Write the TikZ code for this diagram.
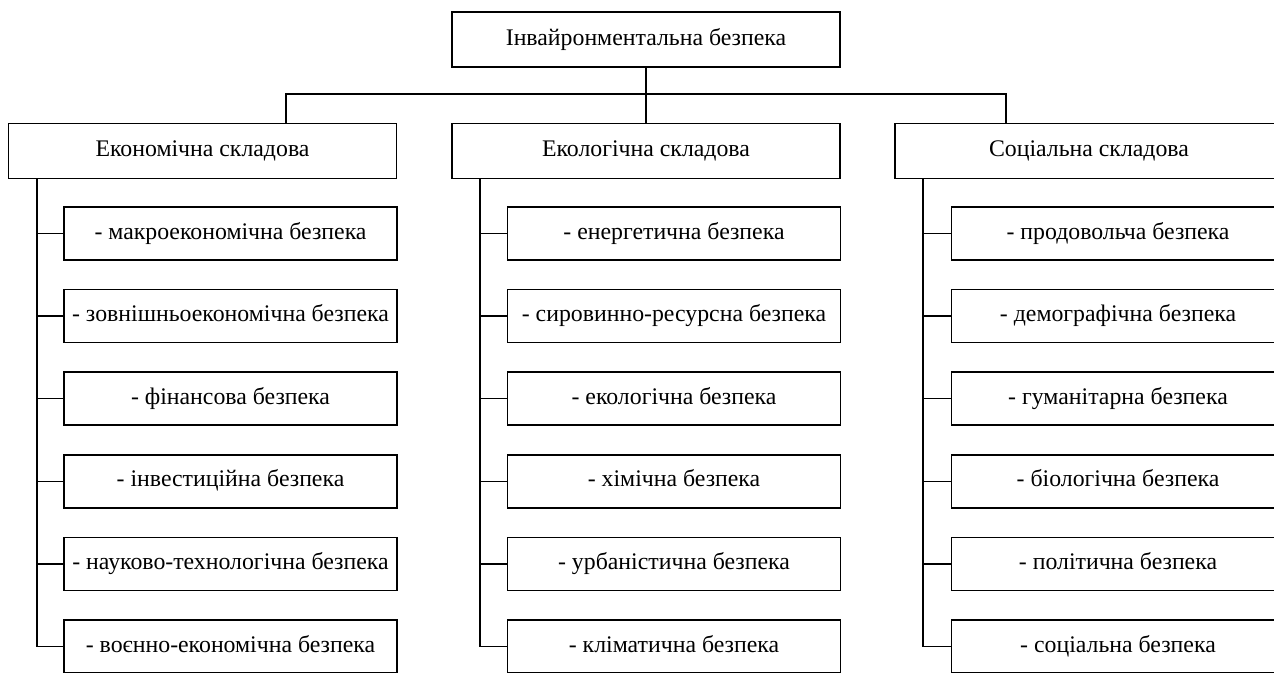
\documentclass[tikz,border=0pt]{standalone}
\usepackage{fontspec}
\setmainfont{Liberation Serif}
\begin{document}
\begin{tikzpicture}[x=1pt,y=-1pt,
  box/.style={draw=black,line width=1.5pt,inner sep=0pt,font=\fontsize{23.8}{28}\selectfont,text height=16pt,text depth=5pt,anchor=center},
  topbox/.style={box,minimum width=388pt,minimum height=55pt},
  headbox/.style={box,minimum width=388pt,minimum height=55pt},
  itembox/.style={box,minimum width=333pt,minimum height=53pt},
  conn/.style={draw=black,line width=1.5pt}]
\useasboundingbox (0,0) rectangle (1274,672);
\clip (0,0) rectangle (1274,672);
% top
\node[topbox] (top) at (646,39.5) {Інвайронментальна безпека};
% headers
\node[headbox] (h1) at (202.5,151) {Економічна складова};
\node[headbox] (h2) at (646,151) {Екологічна складова};
\node[headbox] (h3) at (1089,151) {Соціальна складова};
% items
\foreach \i/\t in {1/{- макроекономічна безпека},2/{- зовнішньоекономічна безпека},3/{- фінансова безпека},4/{- інвестиційна безпека},5/{- науково-технологічна безпека},6/{- воєнно-економічна безпека}}
  \node[itembox] (a\i) at (230.5,{233.5+82.6*(\i-1)}) {\t};
\foreach \i/\t in {1/{- енергетична безпека},2/{- сировинно-ресурсна безпека},3/{- екологічна безпека},4/{- хімічна безпека},5/{- урбаністична безпека},6/{- кліматична безпека}}
  \node[itembox] (b\i) at (674,{233.5+82.6*(\i-1)}) {\t};
\foreach \i/\t in {1/{- продовольча безпека},2/{- демографічна безпека},3/{- гуманітарна безпека},4/{- біологічна безпека},5/{- політична безпека},6/{- соціальна безпека}}
  \node[itembox] (c\i) at (1118,{233.5+82.6*(\i-1)}) {\t};
% top connectors
\coordinate (bl) at (286,94);
\coordinate (br) at (1006,94);
\draw[conn] (top.south) -- (h2.north);
\draw[conn] (bl |- h1.north) -- (bl) -- (br) -- (br |- h3.north);
% column trunks
\coordinate (ta) at (37,178.5);
\coordinate (tb) at (480,178.5);
\coordinate (tc) at (923,178.5);
\draw[conn] (ta) |- (a6.west);
\draw[conn] (tb) |- (b6.west);
\draw[conn] (tc) |- (c6.west);
\foreach \i in {1,...,5} {
  \draw[conn] (ta |- a\i.west) -- (a\i.west);
  \draw[conn] (tb |- b\i.west) -- (b\i.west);
  \draw[conn] (tc |- c\i.west) -- (c\i.west);
}
\end{tikzpicture}
\end{document}
